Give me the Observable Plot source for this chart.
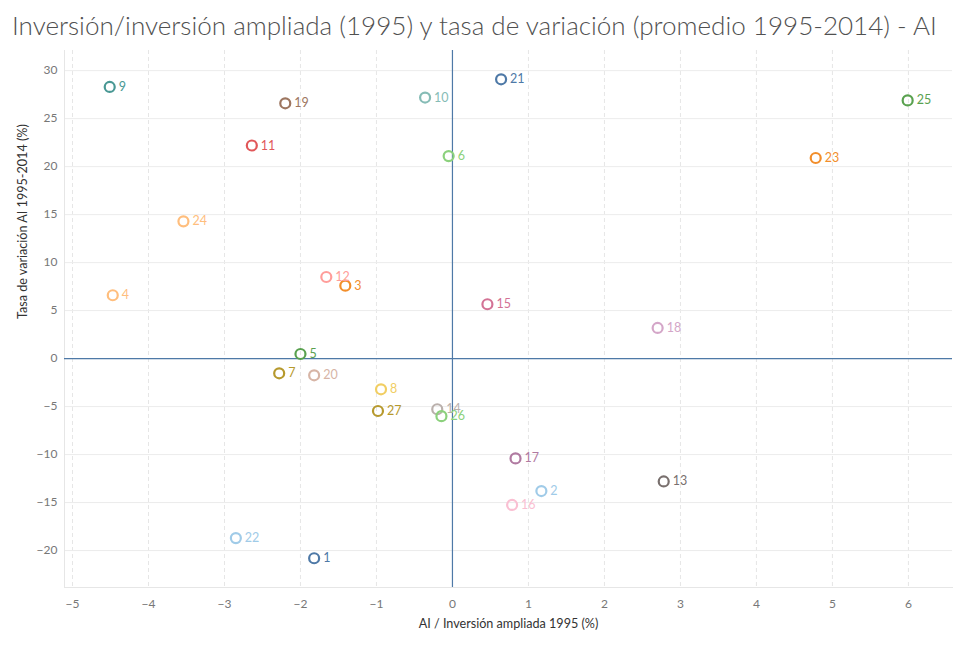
<!DOCTYPE html>
<html>
<head>
<meta charset="utf-8">
<script src="https://cdn.jsdelivr.net/npm/d3@7"></script>
<script src="https://cdn.jsdelivr.net/npm/@observablehq/plot@0.6"></script>
<style>
  html, body { margin: 0; padding: 0; background: #fff; }
  #title { height: 50px; position: relative; font-family: Lato, sans-serif; color: #505050; }
  #title span { position: absolute; left: 12px; top: 10px; white-space: nowrap; font-size: 24px; line-height: 30px; font-weight: 300; }
  svg { display: block; }
</style>
</head>
<body>
<div id="title"><span>Inversión/inversión ampliada (1995) y tasa de variación (promedio 1995-2014) - AI</span></div>
<div id="chart"></div>
<script>
const titleText = "Inversión/inversión ampliada (1995) y tasa de variación (promedio 1995-2014) - AI";
const xLabel = "AI / Inversión ampliada 1995 (%)";
const yLabel = "Tasa de variación AI 1995-2014 (%)";

const labels = ["1","2","3","4","5","6","7","8","9","10","11","12","13","14","15","16","17","18","19","20","21","22","23","24","25","26","27"];
const xValues = [-1.82, 1.17, -1.41, -4.47, -2.00, -0.05, -2.28, -0.94, -4.51, -0.36, -2.64, -1.66, 2.78, -0.20, 0.46, 0.785, 0.83, 2.70, -2.20, -1.82, 0.64, -2.85, 4.78, -3.54, 5.99, -0.145, -0.98];
const yValues = [-20.8, -13.8, 7.6, 6.6, 0.48, 21.1, -1.53, -3.2, 28.3, 27.2, 22.2, 8.5, -12.8, -5.28, 5.66, -15.25, -10.4, 3.19, 26.6, -1.74, 29.1, -18.7, 20.9, 14.3, 26.9, -6.0, -5.46];

const xTicks = [-5, -4, -3, -2, -1, 0, 1, 2, 3, 4, 5, 6];
const yTicks = [-20, -15, -10, -5, 0, 5, 10, 15, 20, 25, 30];

const tableau20 = ["#4e79a7","#a0cbe8","#f28e2b","#ffbe7d","#59a14f","#8cd17d","#b6992d","#f1ce63","#499894","#86bcb6","#e15759","#ff9d9a","#79706e","#bab0ac","#d37295","#fabfd2","#b07aa1","#d4a6c8","#9d7660","#d7b5a6"];

const data = labels.map((l, i) => ({label: l, x: xValues[i], y: yValues[i]}));

// fit title width
(function fitTitle() {
  const span = document.querySelector("#title span");
  const target = 925;
  const w = span.getBoundingClientRect().width;
  if (w > 0) span.style.fontSize = (24 * target / w).toFixed(2) + "px";
})();

const font = "Lato, sans-serif";
const chart = Plot.plot({
  width: 959,
  height: 599,
  marginTop: 0,
  marginBottom: 62,
  marginLeft: 64,
  marginRight: 7,
  style: { fontFamily: font, fontSize: "12px", background: "#fff" },
  x: { domain: [-5.105, 6.58], ticks: xTicks, label: null },
  y: { domain: [-23.85, 32.1], ticks: yTicks, label: null },
  color: { type: "ordinal", domain: labels, range: labels.map((_, i) => tableau20[i % 20]) },
  marks: [
    Plot.gridX(xTicks, { stroke: "#e6e6e6", strokeOpacity: 1, strokeDasharray: "4,3" }),
    Plot.gridY(yTicks, { stroke: "#ececec", strokeOpacity: 1 }),
    Plot.axisX({ ticks: xTicks, tickSize: 0, tickPadding: 12, fill: "#777", fontSize: 12, label: null }),
    Plot.axisY({ ticks: yTicks, tickSize: 0, tickPadding: 7, fill: "#777", fontSize: 12, label: null }),
    Plot.frame({ anchor: "left", stroke: "#e6e6e6" }),
    Plot.frame({ anchor: "bottom", stroke: "#e6e6e6" }),
    Plot.ruleX([0], { stroke: "#4e79a7", strokeWidth: 1.2 }),
    Plot.ruleY([0], { stroke: "#4e79a7", strokeWidth: 1.2 }),
    Plot.dot(data, { x: "x", y: "y", stroke: "label", r: 5, strokeWidth: 2.2, fill: "none" }),
    Plot.text(data, { x: "x", y: "y", text: "label", fill: "label", dx: 9, textAnchor: "start", fontSize: 12.5 }),
    Plot.text([xLabel], { frameAnchor: "bottom", dy: 40, fill: "#333", fontSize: 12.6 }),
    Plot.text([yLabel], { frameAnchor: "left", rotate: -90, dx: -42, fill: "#333", fontSize: 12.6 })
  ]
});
document.getElementById("chart").appendChild(chart);
</script>
</body>
</html>
